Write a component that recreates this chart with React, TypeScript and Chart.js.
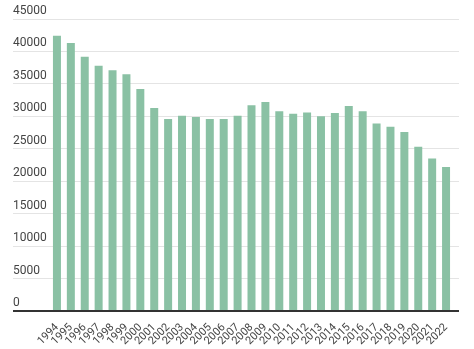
import React, { useEffect, useRef } from "react";
import { Chart, registerables } from "chart.js";

Chart.register(...registerables);

const years: string[] = [
  "1994", "1995", "1996", "1997", "1998", "1999", "2000", "2001", "2002", "2003",
  "2004", "2005", "2006", "2007", "2008", "2009", "2010", "2011", "2012", "2013",
  "2014", "2015", "2016", "2017", "2018", "2019", "2020", "2021", "2022",
];

const values: number[] = [
  42400, 41300, 39200, 37800, 37100, 36500, 34200, 31300, 29600, 30100,
  29900, 29600, 29600, 30100, 31700, 32200, 30800, 30400, 30600, 30000,
  30500, 31600, 30800, 28900, 28400, 27600, 25300, 23500, 22200,
];

const yMin = 0;
const yMax = 45000;
const yStep = 5000;

const BAR_COLOR = "#8ac1a4";
const GRID_COLOR = "#e4e4e4";
const ZERO_COLOR = "#333333";
const TEXT_COLOR = "#444444";
const FONT = "Roboto, 'Noto Sans', sans-serif";

export default function App() {
  const canvasRef = useRef<HTMLCanvasElement | null>(null);

  useEffect(() => {
    document.body.style.margin = "0";
    const canvas = canvasRef.current;
    if (!canvas) return;
    const isZero = (ctx: any) => ctx && ctx.tick && Number(ctx.tick.value) === 0;
    const gridColor = (ctx: any) => (isZero(ctx) ? ZERO_COLOR : GRID_COLOR);
    const gridWidth = (ctx: any) => (isZero(ctx) ? 2 : 1);
    const chart = new Chart(canvas, {
      type: "bar",
      data: {
        labels: years,
        datasets: [
          {
            data: values,
            backgroundColor: BAR_COLOR,
            borderWidth: 0,
            barPercentage: 0.575,
            categoryPercentage: 1,
            yAxisID: "y",
          },
        ],
      },
      options: {
        responsive: false,
        animation: false,
        maintainAspectRatio: false,
        layout: { padding: { left: 13, right: 15, top: 19, bottom: 0 } },
        plugins: {
          legend: { display: false },
          tooltip: { enabled: false },
        },
        scales: {
          x: {
            z: 1,
            grid: { display: false },
            border: { display: true, color: ZERO_COLOR, width: 2 },
            ticks: {
              color: TEXT_COLOR,
              font: { family: FONT, size: 11 },
              minRotation: 45,
              maxRotation: 45,
              autoSkip: false,
              padding: 2,
            },
            afterFit: (scale: any) => {
              scale.height = 38;
            },
          },
          y: {
            position: "left",
            min: yMin,
            max: yMax,
            grid: {
              color: gridColor,
              lineWidth: gridWidth,
              tickLength: 37,
              tickColor: gridColor,
              tickWidth: gridWidth,
            },
            border: { display: false },
            ticks: {
              stepSize: yStep,
              color: TEXT_COLOR,
              font: { family: FONT, size: 12 },
              crossAlign: "far",
              labelOffset: -8,
              padding: 0,
              callback: (v: any) => String(v),
            },
            afterFit: (scale: any) => {
              scale.width = 37;
            },
          },
          yr: {
            position: "right",
            min: yMin,
            max: yMax,
            grid: {
              drawOnChartArea: false,
              color: gridColor,
              lineWidth: gridWidth,
              tickLength: 6,
              tickColor: gridColor,
              tickWidth: gridWidth,
            },
            border: { display: false },
            ticks: { stepSize: yStep, display: false },
            afterFit: (scale: any) => {
              scale.width = 6;
            },
          },
        },
      },
    });
    return () => chart.destroy();
  }, []);

  return (
    <div style={{ width: 474, height: 349 }}>
      <canvas ref={canvasRef} width={474} height={349} style={{ display: "block" }} />
    </div>
  );
}
